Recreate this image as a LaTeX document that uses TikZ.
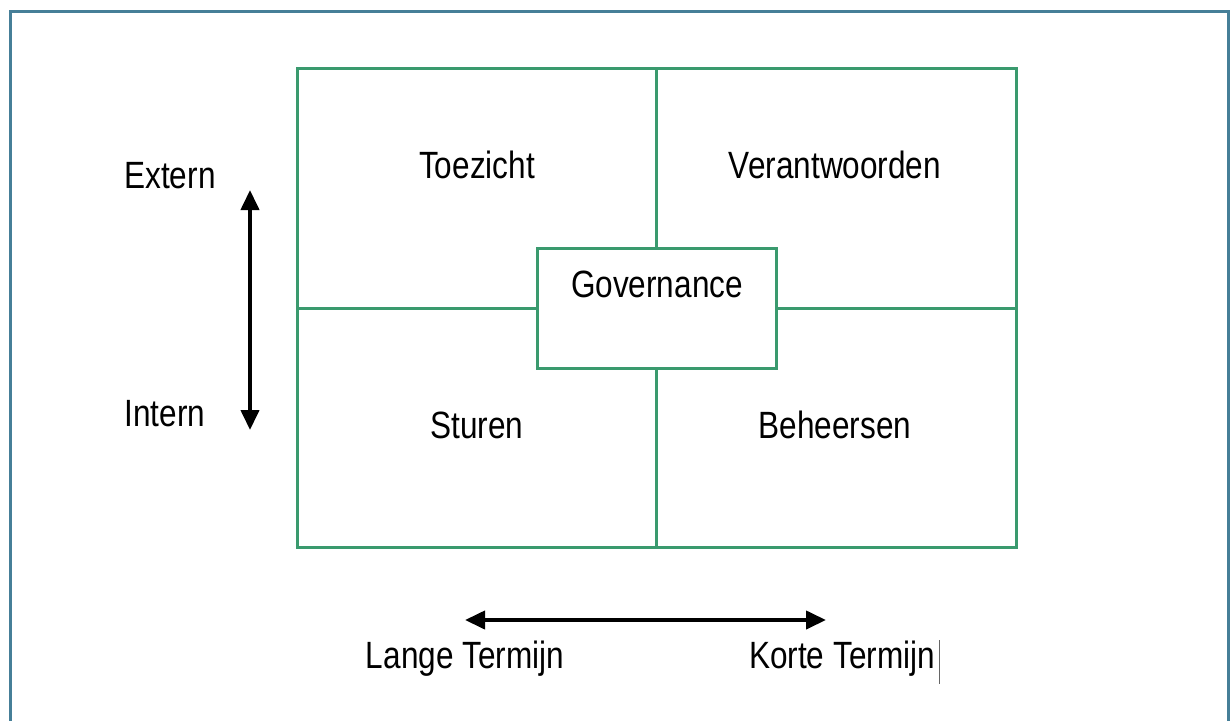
\documentclass[tikz,border=0pt]{standalone}
\usepackage{fontspec}
\setmainfont{Liberation Sans}
\usetikzlibrary{arrows.meta}
\definecolor{gridgreen}{HTML}{3A9A6E}
\definecolor{framecol}{HTML}{467F98}
\tikzset{
  cell/.style={draw=gridgreen, line width=3pt},
  lbl/.style={font=\fontsize{38}{44}\selectfont, inner sep=0pt, anchor=base, xscale=0.83, transform shape},
  dir/.style={line width=4pt, {Triangle[length=20pt,width=18pt]}-{Triangle[length=20pt,width=18pt]}}
}
\begin{document}
\begin{tikzpicture}[x=1pt,y=-1pt]
\useasboundingbox (0,0) rectangle (1230,720);
\clip (0,0) rectangle (1230,720);
\fill[white] (0,0) rectangle (1230,720);
\draw[framecol, line width=3pt] (10,11) rectangle (1228,740);
% grid
\node[cell, minimum width=719pt, minimum height=479pt, inner sep=0pt] (outer) at (656.5,307.5) {};
\coordinate (vt) at (656,68);
\coordinate (vb) at (656,547);
\coordinate (hl) at (297,308);
\coordinate (hr) at (1016,308);
\draw[cell] (vt) -- (vb);
\draw[cell] (hl) -- (hr);
\node[cell, fill=white, minimum width=239pt, minimum height=120pt, inner sep=0pt] (gov) at (656.5,308) {};
\node[lbl] (govt) at (657,297) {Governance};
\node[lbl] (toe) at (477,178) {Toezicht};
\node[lbl] (ver) at (835,178) {Verantwoorden};
\node[lbl] (stu) at (477,438) {Sturen};
\node[lbl] (beh) at (835,438) {Beheersen};
\node[lbl] (ext) at (170,188) {Extern};
\node[lbl] (int) at (165,426) {Intern};
\node[lbl] (lan) at (465,668) {Lange Termijn};
\node[lbl] (kor) at (842,668) {Korte Termijn};
\coordinate (at) at (250,190);
\coordinate (ab) at (250,430);
\draw[dir] (at) -- (ab);
\coordinate (al) at (465,620);
\coordinate (ar) at (826,620);
\draw[dir] (al) -- (ar);
\coordinate (ct) at (939,640);
\coordinate (cb) at (939,684);
\draw[gray!80!black, line width=1pt] (ct) -- (cb);
\end{tikzpicture}
\end{document}
